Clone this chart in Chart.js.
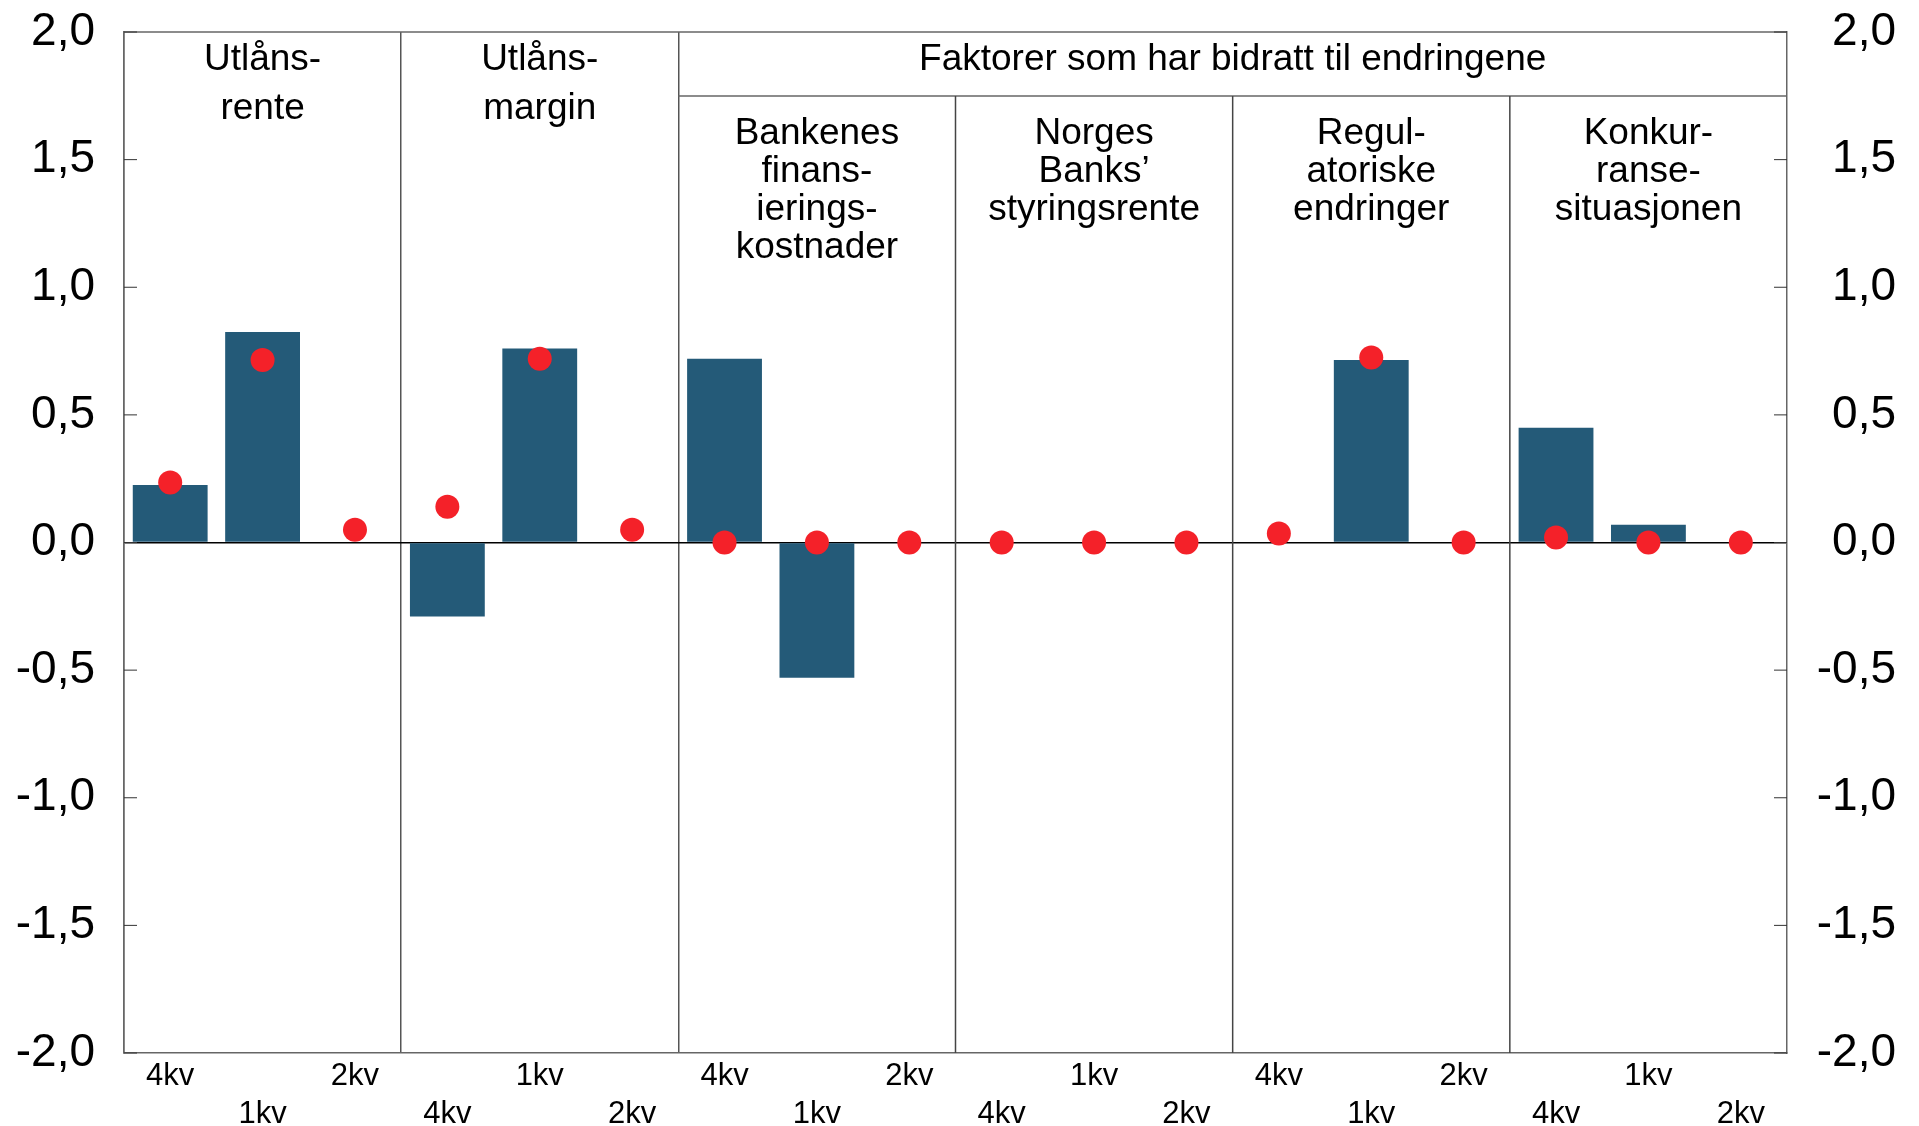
<!DOCTYPE html>
<html>
<head>
<meta charset="utf-8">
<script src="https://cdn.jsdelivr.net/npm/chart.js@4.4.1/dist/chart.umd.min.js"></script>
<style>
  html, body { margin: 0; padding: 0; background: #fff; }
  #wrap { width: 1919px; height: 1126px; }
</style>
</head>
<body>
<div id="wrap"><canvas id="myChart"></canvas></div>
<script>
const quarters = ['4kv', '1kv', '2kv']
const groupTitles = [
  ['Utlåns-', 'rente'],
  ['Utlåns-', 'margin'],
  ['Bankenes', 'finans-', 'ierings-', 'kostnader'],
  ['Norges', 'Banks’', 'styringsrente'],
  ['Regul-', 'atoriske', 'endringer'],
  ['Konkur-', 'ranse-', 'situasjonen']
]
const factorTitle = 'Faktorer som har bidratt til endringene'

// bars (blue) and dots (red), 3 quarters per group
const barValues = [
  0.225, 0.825, null,
  -0.29, 0.76, null,
  0.72, -0.53, null,
  null, null, null,
  null, 0.715, null,
  0.45, 0.07, null
]
const dotValues = [
  0.235, 0.715, 0.05,
  0.14, 0.72, 0.05,
  0, 0, 0,
  0, 0, 0,
  0.035, 0.725, 0,
  0.02, 0, 0
]
const yTicks = [-2, -1.5, -1, -0.5, 0, 0.5, 1, 1.5, 2]

// labels alternate between upper and lower row
const labels = []
for (let i = 0; i < 18; i++) {
  const q = quarters[i % 3]
  labels.push(i % 2 === 0 ? [q, ''] : ['', q])
}

const fmt = (v) => v.toFixed(1).replace('.', ',')
const FONT = '"Liberation Sans", Arial, sans-serif'
const HEADER_Y = 64

const decorations = {
  id: 'decorations',
  afterDatasetsDraw(chart) {
    const { ctx, chartArea: a, scales } = chart
    const x = scales.x
    const y = scales.y
    const colW = x.getPixelForValue(1) - x.getPixelForValue(0)
    const edge = (i) => x.getPixelForValue(i) - colW / 2
    ctx.save()
    ctx.strokeStyle = '#666'
    ctx.lineWidth = 1.5
    // top border
    ctx.beginPath()
    ctx.moveTo(a.left, a.top)
    ctx.lineTo(a.right, a.top)
    ctx.stroke()
    // header line over factor groups
    ctx.beginPath()
    ctx.moveTo(edge(6), a.top + HEADER_Y)
    ctx.lineTo(a.right, a.top + HEADER_Y)
    ctx.stroke()
    // separators between factor groups start below header
    ctx.strokeStyle = '#444'
    ;[9, 12, 15].forEach((i) => {
      ctx.beginPath()
      ctx.moveTo(edge(i), a.top + HEADER_Y)
      ctx.lineTo(edge(i), a.bottom)
      ctx.stroke()
    })
    // inward ticks
    ctx.strokeStyle = '#333'
    ctx.lineWidth = 1
    yTicks.forEach((v) => {
      const py = y.getPixelForValue(v)
      ctx.beginPath()
      ctx.moveTo(a.left, py)
      ctx.lineTo(a.left + 13, py)
      ctx.moveTo(a.right - 13, py)
      ctx.lineTo(a.right, py)
      ctx.stroke()
    })
    // texts
    ctx.fillStyle = '#000'
    ctx.font = '37px ' + FONT
    ctx.textAlign = 'center'
    ctx.textBaseline = 'middle'
    groupTitles.forEach((lines, g) => {
      const cx = x.getPixelForValue(g * 3 + 1)
      if (g < 2) {
        lines.forEach((t, k) => ctx.fillText(t, cx, a.top + 28 + k * 49))
      } else {
        lines.forEach((t, k) => ctx.fillText(t, cx, a.top + 102 + k * 38))
      }
    })
    ctx.fillText(factorTitle, (edge(6) + a.right) / 2, a.top + 28)
    ctx.restore()
  }
}

function noPad(s) {
  s.paddingTop = 0
  s.paddingBottom = 0
}

function createChart() {
  const ctx = document.getElementById('myChart')
  new Chart(ctx, {
    type: 'bar',
    data: {
      labels: labels,
      datasets: [
        {
          type: 'line',
          data: dotValues,
          showLine: false,
          pointRadius: 12,
          pointHoverRadius: 12,
          pointBackgroundColor: '#f42129',
          pointBorderWidth: 0,
          borderColor: '#f42129',
          order: 1
        },
        {
          type: 'bar',
          data: barValues,
          backgroundColor: '#245a78',
          barPercentage: 0.81,
          categoryPercentage: 1,
          order: 2
        }
      ]
    },
    plugins: [decorations],
    options: {
      responsive: true,
      maintainAspectRatio: false,
      animation: false,
      layout: { padding: { top: 32, right: 23, left: 0, bottom: 0 } },
      plugins: { legend: { display: false }, tooltip: { enabled: false } },
      scales: {
        x: {
          offset: true,
          grid: {
            offset: true,
            drawTicks: false,
            color: (c) => ([0, 3, 6, 18].includes(c.index) ? '#555' : 'rgba(0,0,0,0)'),
            lineWidth: 1.5
          },
          border: { display: true, color: '#666', width: 1.5 },
          ticks: {
            maxRotation: 0,
            autoSkip: false,
            padding: 4,
            color: '#000',
            font: { family: FONT, size: 31, lineHeight: 1.23 }
          },
          afterFit: (s) => { s.height = 73 }
        },
        y: {
          position: 'left',
          min: -2,
          max: 2,
          afterBuildTicks: (s) => { s.ticks = yTicks.map((v) => ({ value: v })) },
          grid: {
            drawTicks: false,
            color: (c) => (c.tick && c.tick.value === 0 ? '#000' : 'rgba(0,0,0,0)'),
            lineWidth: 1.5
          },
          border: { display: true, color: '#666', width: 1.5 },
          ticks: {
            padding: 29,
            color: '#000',
            callback: (v) => fmt(v),
            font: { family: FONT, size: 46 }
          },
          afterFit: (s) => { s.width = 124; noPad(s) }
        },
        y2: {
          position: 'right',
          min: -2,
          max: 2,
          afterBuildTicks: (s) => { s.ticks = yTicks.map((v) => ({ value: v })) },
          grid: { drawOnChartArea: false, drawTicks: false },
          border: { display: true, color: '#666', width: 1.5 },
          ticks: {
            crossAlign: 'far',
            color: '#000',
            callback: (v) => fmt(v),
            font: { family: FONT, size: 46 }
          },
          afterFit: (s) => { s.width = 109; noPad(s) }
        }
      }
    }
  })
}

createChart()
</script>
</body>
</html>
